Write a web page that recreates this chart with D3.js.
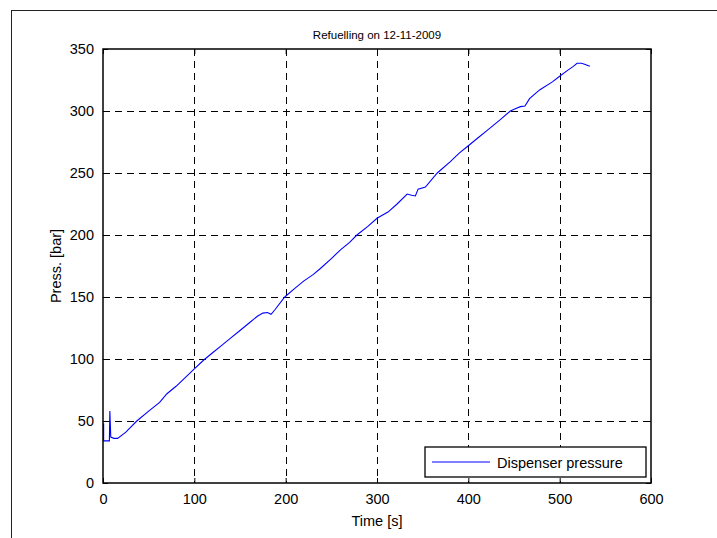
<!DOCTYPE html>
<html>
<head>
<meta charset="utf-8">
<script src="https://cdn.jsdelivr.net/npm/d3@7"></script>
<style>
  body { margin: 0; background: #fff; }
  svg { display: block; }
  text { font-family: "Liberation Sans", Arial, sans-serif; fill: #000; }
</style>
</head>
<body>
<svg width="717" height="538"></svg>
<script>
// values
const time = [0.7, 0.7, 7, 7.5, 8.5, 12, 16, 25, 37, 50, 62, 70, 80, 90, 100, 110, 120, 130, 140, 150, 160, 169, 175, 180, 184, 188, 199,
  210, 220, 230, 238, 250, 260, 270, 278, 290, 300, 312, 322, 333, 338, 342, 345, 353, 366, 380, 390, 400, 410, 420, 435, 446,
  452, 457, 462, 467, 478, 492, 500, 509, 515, 519, 524, 528, 533]
const pressure = [48, 34, 34, 58, 37, 36, 36, 41, 50, 58, 65, 72, 78, 85, 92, 99, 105, 111, 117, 123, 129, 134.5, 137, 137.5, 136, 139.5, 150,
  157, 163, 168, 173, 181, 188, 194, 200, 207, 213.5, 218.5, 225, 233, 232, 231.5, 237, 238.7, 250, 259, 266, 272, 278, 284, 293, 300,
  302, 303.5, 304, 310, 317, 323.5, 328, 333, 336, 338.5, 338.5, 337.5, 336]
const xTicks = [0, 100, 200, 300, 400, 500, 600]
const yTicks = [0, 50, 100, 150, 200, 250, 300, 350]
const title = "Refuelling on 12-11-2009"
const seriesName = "Dispenser pressure"

const svg = d3.select("svg")
const pLeft = 103, pRight = 651, pTop = 49, pBottom = 483

// outer figure frame
svg.append("rect").attr("x", 11.5).attr("y", 10.5).attr("width", 800).attr("height", 600)
  .attr("fill", "none").attr("stroke", "#222").attr("stroke-width", 1)

const x = d3.scaleLinear().domain([0, 600]).range([pLeft, pRight])
const y = d3.scaleLinear().domain([0, 350]).range([pBottom, pTop])

// grid
const grid = svg.append("g").attr("stroke", "#000").attr("stroke-width", 1).attr("stroke-dasharray", "7,5")
xTicks.slice(1, -1).forEach(t => grid.append("line")
  .attr("x1", Math.round(x(t)) + 0.5).attr("x2", Math.round(x(t)) + 0.5).attr("y1", pTop).attr("y2", pBottom))
yTicks.slice(1, -1).forEach(t => grid.append("line")
  .attr("y1", Math.round(y(t)) + 0.5).attr("y2", Math.round(y(t)) + 0.5).attr("x1", pLeft).attr("x2", pRight))

// data line
const line = d3.line().x((d, i) => x(time[i])).y((d, i) => y(pressure[i]))
svg.append("path").datum(pressure).attr("d", line)
  .attr("fill", "none").attr("stroke", "#0000ff").attr("stroke-width", 1.1)

// axes, ticks inward on all sides
function styleAxis(g) {
  g.select(".domain").remove()
  g.selectAll("line").attr("stroke", "#000")
  g.selectAll("text").style("font-size", "14.5px")
}
svg.append("g").attr("transform", "translate(0," + pBottom + ")")
  .call(d3.axisBottom(x).tickValues(xTicks).tickSize(-5).tickPadding(11))
  .call(styleAxis)
svg.append("g").attr("transform", "translate(0," + pTop + ")")
  .call(d3.axisTop(x).tickValues(xTicks).tickSize(-5).tickFormat(""))
  .call(styleAxis)
svg.append("g").attr("transform", "translate(" + pLeft + ",0)")
  .call(d3.axisLeft(y).tickValues(yTicks).tickSize(-5).tickPadding(9))
  .call(styleAxis)
svg.append("g").attr("transform", "translate(" + pRight + ",0)")
  .call(d3.axisRight(y).tickValues(yTicks).tickSize(-5).tickFormat(""))
  .call(styleAxis)

svg.append("rect").attr("x", pLeft).attr("y", pTop).attr("width", pRight - pLeft).attr("height", pBottom - pTop)
  .attr("fill", "none").attr("stroke", "#000").attr("stroke-width", 1.5)

// labels
svg.append("text").attr("x", (pLeft + pRight) / 2).attr("y", 39).attr("text-anchor", "middle")
  .style("font-size", "11.5px").text(title)
svg.append("text").attr("x", (pLeft + pRight) / 2).attr("y", 526).attr("text-anchor", "middle")
  .style("font-size", "14.5px").text("Time [s]")
svg.append("text").attr("transform", "translate(61," + ((pTop + pBottom) / 2) + ") rotate(-90)")
  .attr("text-anchor", "middle").style("font-size", "14.5px").text("Press. [bar]")

// legend
const lg = svg.append("g").attr("transform", "translate(425,447)")
lg.append("rect").attr("width", 221).attr("height", 30).attr("fill", "#fff").attr("stroke", "#000").attr("stroke-width", 1.3)
lg.append("line").attr("x1", 7).attr("x2", 65).attr("y1", 15).attr("y2", 15).attr("stroke", "#0000ff").attr("stroke-width", 1.1)
lg.append("text").attr("x", 72).attr("y", 20.5).style("font-size", "14.5px").text(seriesName)
</script>
</body>
</html>
